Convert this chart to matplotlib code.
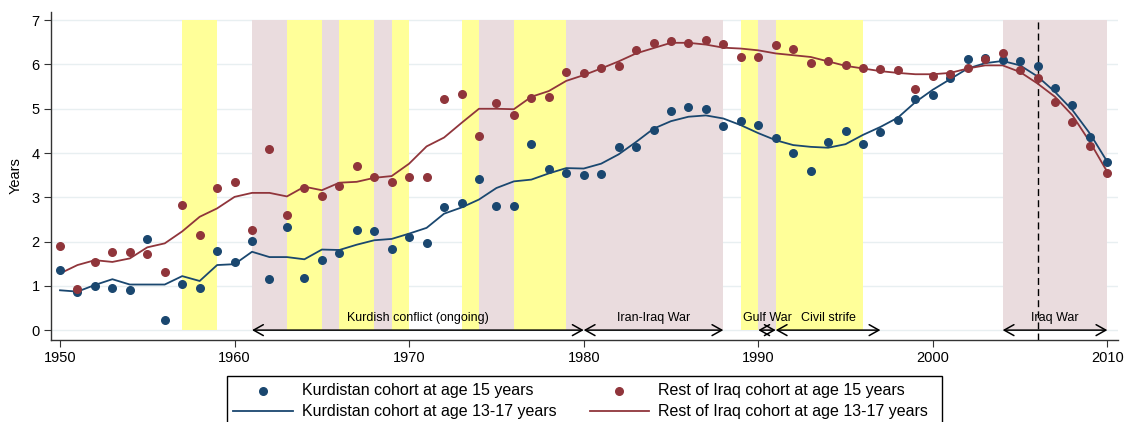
import numpy as np
import matplotlib.pyplot as plt
from matplotlib.patches import Rectangle

plt.rcParams['font.family'] = ['Liberation Sans', 'DejaVu Sans']

# Data
years = np.arange(1950, 2011)

kurd_15 = [1.35, 0.87, 1.00, 0.95, 0.90, 2.05, 0.24, 1.04, 0.96, 1.79,
           1.54, 2.01, 1.15, 2.32, 1.17, 1.58, 1.75, 2.27, 2.23, 1.83,
           2.11, 1.96, 2.77, 2.88, 3.41, 2.81, 2.81, 4.20, 3.63, 3.55,
           3.50, 3.52, 4.13, 4.13, 4.52, 4.94, 5.04, 4.99, 4.60, 4.72,
           4.64, 4.33, 4.01, 3.60, 4.24, 4.50, 4.21, 4.48, 4.74, 5.23,
           5.30, 5.70, 6.13, 6.15, 6.11, 6.07, 5.97, 5.46, 5.09, 4.37,
           3.79]

rest_15 = [1.90, 0.94, 1.54, 1.77, 1.77, 1.71, 1.31, 2.83, 2.16, 3.20,
           3.34, 2.26, 4.08, 2.61, 3.20, 3.03, 3.26, 3.71, 3.45, 3.34,
           3.46, 3.45, 5.21, 5.33, 4.39, 5.12, 4.87, 5.24, 5.27, 5.83,
           5.81, 5.92, 5.97, 6.32, 6.49, 6.54, 6.49, 6.56, 6.47, 6.18,
           6.16, 6.45, 6.35, 6.03, 6.08, 5.98, 5.92, 5.90, 5.88, 5.45,
           5.73, 5.78, 5.91, 6.12, 6.27, 5.87, 5.70, 5.15, 4.71, 4.16,
           3.55]

kurd_13_17 = [0.90, 0.87, 1.02, 1.15, 1.03, 1.03, 1.03, 1.22, 1.11, 1.47,
              1.49, 1.77, 1.65, 1.65, 1.60, 1.82, 1.81, 1.93, 2.03, 2.06,
              2.18, 2.31, 2.63, 2.77, 2.95, 3.21, 3.36, 3.40, 3.54, 3.66,
              3.65, 3.76, 3.97, 4.25, 4.55, 4.72, 4.82, 4.85, 4.78, 4.63,
              4.45, 4.29, 4.18, 4.14, 4.12, 4.20, 4.41, 4.59, 4.80, 5.15,
              5.43, 5.67, 5.91, 6.03, 6.08, 5.98, 5.73, 5.38, 4.97, 4.44,
              3.80]

rest_13_17 = [1.28, 1.47, 1.58, 1.54, 1.62, 1.87, 1.96, 2.23, 2.56, 2.75,
              3.01, 3.10, 3.10, 3.02, 3.24, 3.16, 3.33, 3.35, 3.44, 3.48,
              3.76, 4.15, 4.35, 4.68, 5.00, 5.00, 4.99, 5.27, 5.40, 5.63,
              5.76, 5.91, 6.07, 6.25, 6.37, 6.49, 6.49, 6.45, 6.38, 6.36,
              6.32, 6.25, 6.21, 6.17, 6.07, 5.97, 5.91, 5.85, 5.81, 5.78,
              5.78, 5.81, 5.91, 5.98, 5.98, 5.83, 5.57, 5.27, 4.85, 4.25,
              3.57]

yellow_periods = [(1957, 1959), (1963, 1965), (1966, 1968), (1969, 1970),
                  (1973, 1974), (1976, 1979), (1989, 1990), (1991, 1996)]
pink_periods = [(1961, 1963), (1965, 1966), (1968, 1969), (1974, 1976),
                (1979, 1988), (1990, 1991), (2004, 2010)]

event_names = ['Kurdish conflict (ongoing)', 'Iran-Iraq War', 'Gulf War', 'Civil strife', 'Iraq War']
event_start = [1961, 1980, 1990, 1991, 2004]
event_end = [1980, 1988, 1991, 1997, 2010]

blue = '#1a476f'
red = '#90353b'

fig = plt.figure(figsize=(11.28, 4.22), dpi=100)
ax = fig.add_axes([0.045, 0.194, 0.946, 0.778])

# grid first, shading on top of it
for yv in range(0, 8):
    ax.axhline(yv, color='#e8eff1', lw=1, zorder=0)

for a, b in yellow_periods:
    ax.add_patch(Rectangle((a, 0), b - a, 7, facecolor='#ffff99', edgecolor='none', zorder=1))
for a, b in pink_periods:
    ax.add_patch(Rectangle((a, 0), b - a, 7, facecolor='#eadcde', edgecolor='none', zorder=1))

ax.axvline(2006, ymin=0, ymax=(7 + 0.226) / 7.416, color='black', lw=1, ls=(0, (5, 3)), zorder=2)

# conflict arrows along y=0
for name, a, b in zip(event_names, event_start, event_end):
    ax.annotate('', xy=(b, 0), xytext=(a, 0),
                arrowprops=dict(arrowstyle='<->,head_length=0.5,head_width=0.28', color='black',
                                lw=1.1, shrinkA=0, shrinkB=0, mutation_scale=14),
                zorder=3)
    ax.text((a + b) / 2, 0.27, name, ha='center', va='center', fontsize=9, zorder=4)

ax.plot(years, kurd_13_17, color=blue, lw=1.3, zorder=5, label='Kurdistan cohort at age 13-17 years')
ax.plot(years, rest_13_17, color=red, lw=1.3, zorder=5, label='Rest of Iraq cohort at age 13-17 years')
ax.scatter(years, kurd_15, s=30, color=blue, zorder=6, label='Kurdistan cohort at age 15 years')
ax.scatter(years, rest_15, s=30, color=red, zorder=6, label='Rest of Iraq cohort at age 15 years')

ax.set_xlim(1949.47, 2010.6)
ax.set_ylim(-0.226, 7.19)
ax.set_xticks(range(1950, 2011, 10))
ax.set_yticks(range(0, 8))
ax.tick_params(axis='both', labelsize=10.5, length=5, width=0.8, color='#333333', pad=3)
ax.set_ylabel('Years', fontsize=10.5, labelpad=6)

for s in ['top', 'right']:
    ax.spines[s].set_visible(False)
for s in ['left', 'bottom']:
    ax.spines[s].set_color('#333333')
    ax.spines[s].set_linewidth(1)

# legend, box drawn by hand so it runs off the bottom like the original
h, l = ax.get_legend_handles_labels()
handles = [h[2], h[0], h[3], h[1]]
labels = [l[2], l[0], l[3], l[1]]
fig.legend(handles, labels, ncol=2, loc='upper left', bbox_to_anchor=(0.207, 0.092),
           frameon=False, fontsize=11.5, handlelength=3.73, handletextpad=0.57,
           columnspacing=2.05, labelspacing=0.375, borderpad=0, borderaxespad=0)
fig.patches.append(Rectangle((226.7 / 1128, -0.05), (942.3 - 226.7) / 1128, 0.05 + (422 - 375.7) / 422,
                             transform=fig.transFigure, facecolor='none', edgecolor='black', lw=1))

fig.savefig('out.png', dpi=100)
